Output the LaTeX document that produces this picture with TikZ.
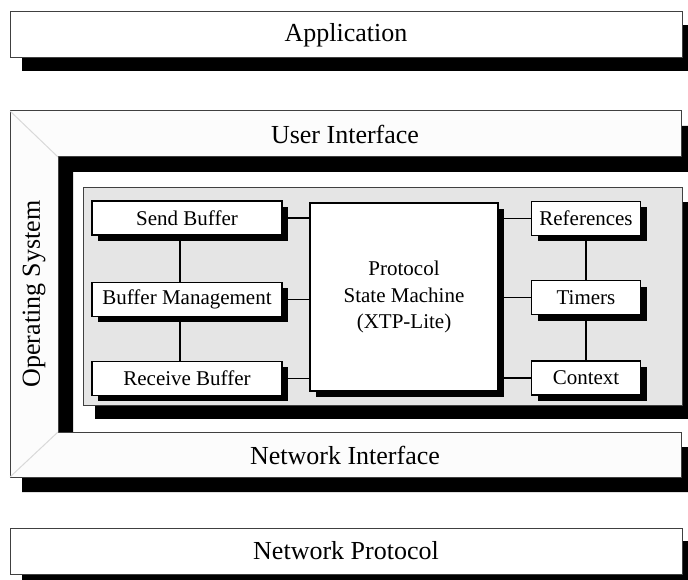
\documentclass[tikz,border=0pt]{standalone}
\usepackage{fontspec}
\setmainfont{Liberation Serif}
\usetikzlibrary{positioning,shadows}
\newcommand{\biglbl}{\fontsize{26}{31}\selectfont}
\newcommand{\smlbl}{\fontsize{21}{26.5}\selectfont}
\tikzset{
  layer/.style={rectangle,draw=black!75,fill=white,line width=1pt,inner sep=0pt,
    minimum width=672pt,minimum height=46pt,font=\biglbl,
    drop shadow={opacity=1,fill=black,shadow xshift=12pt,shadow yshift=-13pt}},
  blk/.style={rectangle,draw=black,fill=white,line width=1.2pt,inner sep=0pt,
    minimum height=34pt,font=\smlbl,align=center,
    drop shadow={opacity=1,fill=black,shadow xshift=6pt,shadow yshift=-6pt}},
  frame/.style={draw=black!75,fill=black!1,line width=1pt},
  bevel/.style={draw=black!15,line width=1pt},
  panel/.style={draw=black!75,fill=black!10,line width=1pt},
  link/.style={line width=1.2pt},
}

\begin{document}
\begin{tikzpicture}[x=1pt,y=-1pt,node distance=45pt and 28pt]
  \useasboundingbox (0,0) rectangle (688,580);
  % top and bottom layers
  \node[layer] (app) at (346,35) {Application};
  \node[layer] (np) at (346,551) {Network Protocol};
  % OS frame (open on the right)
  \fill[black] (22,126) -- (694,126) -- (694,172) -- (73,172) -- (73,447)
    -- (694,447) -- (694,492) -- (22,492) -- cycle;
  \filldraw[frame] (10,111) -- (681,111) -- (681,157) -- (58,157) -- (58,432)
    -- (681,432) -- (681,477) -- (10,477) -- cycle;
  \draw[bevel] (10,111) -- (58,157) (10,477) -- (58,432);
  \node[font=\biglbl] (ui) at (345,134) {User Interface};
  \node[font=\biglbl] (ni) at (345,455) {Network Interface};
  \node[font=\biglbl,rotate=90] (os) at (34,294) {Operating System};
  % grey panel
  \fill[black] (95,202) rectangle (694,419);
  \filldraw[panel] (83,188) rectangle (682,405);
  % state machine
  \node[blk,minimum width=188pt,minimum height=188pt] (psm) at (404,297)
    {Protocol\\State Machine\\(XTP-Lite)};
  % buffer column
  \node[blk,minimum width=190pt] (sb) at (187,218) {Send Buffer};
  \node[blk,minimum width=190pt,below=46pt of sb] (bm) {Buffer Management};
  \node[blk,minimum width=190pt,below=44pt of bm] (rb) {Receive Buffer};
  % timer column
  \node[blk,minimum width=109pt] (refs) at (586,218.5) {References};
  \node[blk,minimum width=109pt,below=44pt of refs] (tim) {Timers};
  \node[blk,minimum width=109pt,below=45pt of tim] (ctx) {Context};
  \draw[link] ([xshift=-7pt]sb.south) -- ([xshift=-7pt]bm.north);
  \draw[link] ([xshift=-7pt]bm.south) -- ([xshift=-7pt]rb.north);
  \draw[link] (refs.south) -- (tim.north);
  \draw[link] (tim.south) -- (ctx.north);
  \draw[link] (sb.east) -- (sb.east -| psm.west);
  \draw[link] (bm.east) -- (bm.east -| psm.west);
  \draw[link] (rb.east) -- (rb.east -| psm.west);
  \draw[link] (refs.west) -- (refs.west -| psm.east);
  \draw[link] (tim.west) -- (tim.west -| psm.east);
  \draw[link] (ctx.west) -- (ctx.west -| psm.east);
\end{tikzpicture}
\end{document}
